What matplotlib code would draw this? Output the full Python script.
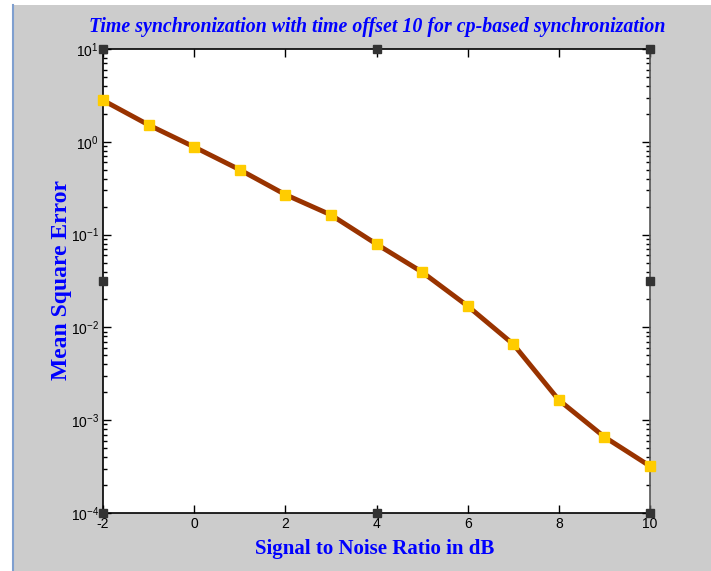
import matplotlib
matplotlib.use("Agg")
import matplotlib.pyplot as plt
from matplotlib.patches import Rectangle
from matplotlib.lines import Line2D

snr_db = [-2, -1, 0, 1, 2, 3, 4, 5, 6, 7, 8, 9, 10]
mse = [2.8, 1.52, 0.88, 0.50, 0.27, 0.163, 0.079, 0.0395, 0.017, 0.0066,
       0.00165, 0.00066, 0.00032]
x_ticks = [-2, 0, 2, 4, 6, 8, 10]
y_ticks = [1e-4, 1e-3, 1e-2, 1e-1, 1e0, 1e1]
y_tick_labels = [r"$10^{-4}$", r"$10^{-3}$", r"$10^{-2}$", r"$10^{-1}$",
                 r"$10^{0}$", r"$10^{1}$"]

title = "Time synchronization with time offset 10 for cp-based synchronization"
xlabel = "Signal to Noise Ratio in dB"
ylabel = "Mean Square Error"

plt.rcParams["mathtext.fontset"] = "custom"
plt.rcParams["mathtext.rm"] = "Liberation Sans"
plt.rcParams["mathtext.it"] = "Liberation Sans"

fig = plt.figure(figsize=(7.11, 5.71), dpi=100, facecolor="#cccccc")

# white strip on the left and top, like the screenshot border
fig.patches.append(Rectangle((0, 0), 12 / 711, 1, transform=fig.transFigure,
                             facecolor="white", edgecolor="none", zorder=0))
fig.patches.append(Rectangle((0, 1 - 5 / 571), 1, 5 / 571, transform=fig.transFigure,
                             facecolor="white", edgecolor="none", zorder=0))
fig.lines.append(Line2D([12.5 / 711, 12.5 / 711], [0, 1 - 5 / 571],
                        transform=fig.transFigure, color="#7f9fcf", lw=1.5))

ax = fig.add_axes([103 / 711, 1 - 513 / 571, 547 / 711, 464 / 571])
ax.set_facecolor("white")

ax.semilogy(snr_db, mse, color="#993300", lw=3.5, marker="s", markersize=7,
            markerfacecolor="#ffcc00", markeredgecolor="#ffcc00", zorder=3,
            clip_on=False)

ax.set_xlim(-2, 10)
ax.set_ylim(1e-4, 1e1)
ax.set_xticks(x_ticks)
ax.set_xticklabels([str(t) for t in x_ticks], fontfamily="Liberation Sans",
                   fontsize=10)
ax.set_yticks(y_ticks)
ax.set_yticklabels(y_tick_labels, fontsize=10)
ax.tick_params(which="both", direction="in", top=True, right=True, pad=3)
ax.tick_params(which="major", length=6, width=1)
ax.tick_params(which="minor", length=3, width=1)
ax.tick_params(axis="x", which="minor", top=False, bottom=False)

for s in ax.spines.values():
    s.set_linewidth(1.2)
ax.spines["right"].set_color("#555555")

# selection handles
for hx, hy in [(0, 0), (0.5, 0), (1, 0), (0, 0.5), (1, 0.5), (0, 1), (0.5, 1), (1, 1)]:
    ax.plot(hx, hy, marker="s", markersize=6, color="#333333",
            transform=ax.transAxes, clip_on=False, zorder=5)

fig.text(377 / 711, 1 - 27 / 571, title, ha="center", va="center",
         fontfamily="Liberation Serif", fontweight="bold", fontstyle="italic",
         fontsize=14.3, color="#0000ff")
fig.text(375 / 711, 1 - 549 / 571, xlabel, ha="center", va="center",
         fontfamily="Liberation Serif", fontweight="bold", fontsize=15,
         color="#0000ff")
fig.text(62 / 711, 1 - 280 / 571, ylabel, ha="center", va="center",
         rotation=90, fontfamily="Liberation Serif", fontweight="bold",
         fontsize=17, color="#0000ff")

fig.savefig("out.png", dpi=100, facecolor=fig.get_facecolor())
